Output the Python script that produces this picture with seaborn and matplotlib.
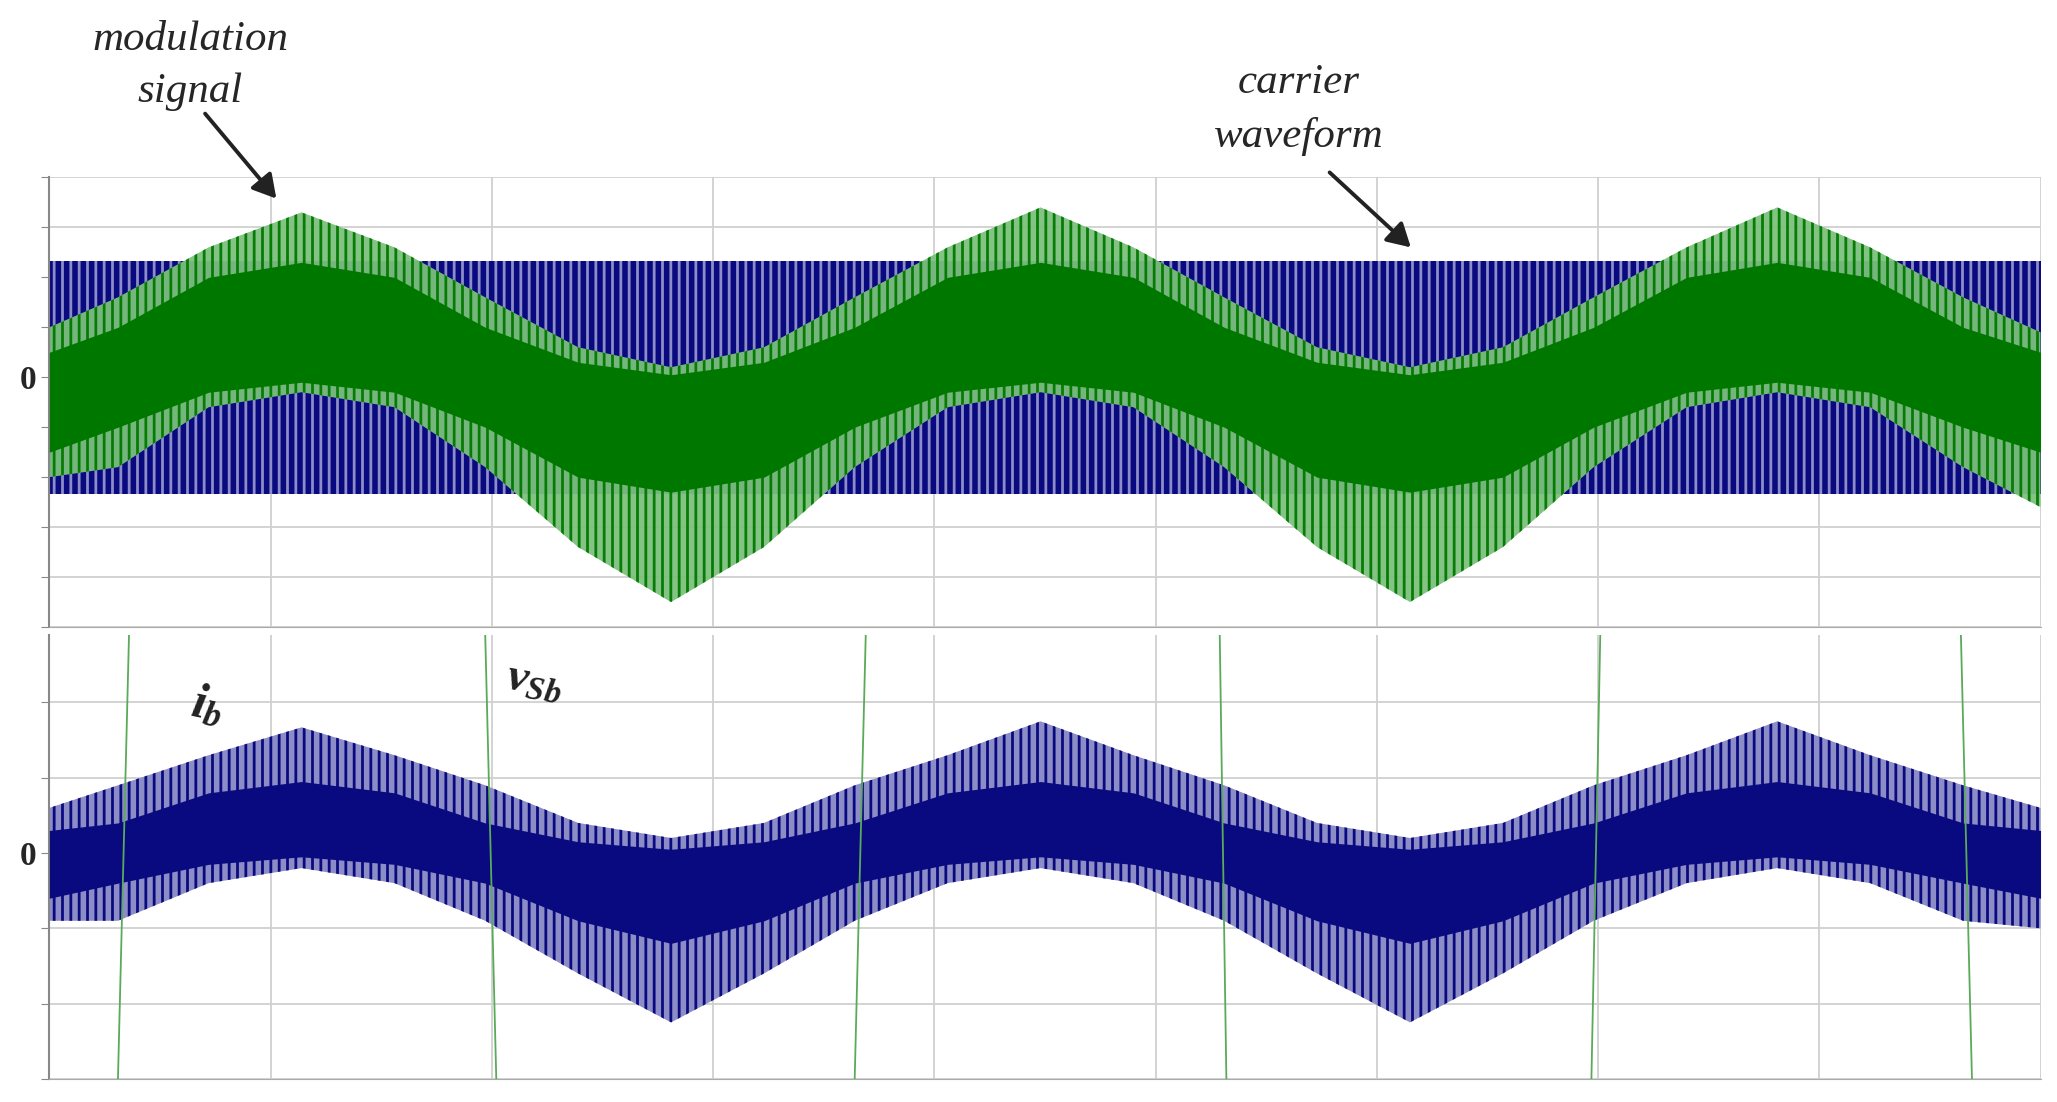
import numpy as np
import matplotlib
matplotlib.use("Agg")
import matplotlib.pyplot as plt
import seaborn as sns

sns.set_style("white")
plt.rcParams['font.family'] = ['Liberation Serif', 'DejaVu Serif']
plt.rcParams['mathtext.fontset'] = 'custom'
plt.rcParams['mathtext.it'] = 'Liberation Serif:italic:bold'
plt.rcParams['mathtext.rm'] = 'Liberation Serif:bold'
plt.rcParams['hatch.linewidth'] = 2.0

# sample positions (grid units) for envelopes
x_env = [0, 0.31, 0.72, 1.14, 1.56, 1.97, 2.39, 2.81, 3.23, 3.64, 4.06, 4.48, 4.90,
         5.31, 5.73, 6.15, 6.57, 6.98, 7.40, 7.81, 8.23, 8.65, 9.0]
# modulation signal envelopes (top panel)
mod_light_hi = [1.0, 1.6, 2.6, 3.3, 2.6, 1.6, 0.6, 0.2, 0.6, 1.6, 2.6, 3.4, 2.6, 1.6, 0.6, 0.2, 0.6, 1.6, 2.6, 3.4, 2.6, 1.6, 0.9]
mod_dark_hi = [0.5, 1.0, 2.0, 2.3, 2.0, 1.0, 0.3, 0.05, 0.3, 1.0, 2.0, 2.3, 2.0, 1.0, 0.3, 0.05, 0.3, 1.0, 2.0, 2.3, 2.0, 1.0, 0.5]
mod_dark_lo = [-1.5, -1.0, -0.3, -0.1, -0.3, -1.0, -2.0, -2.3, -2.0, -1.0, -0.3, -0.1, -0.3, -1.0, -2.0, -2.3, -2.0, -1.0, -0.3, -0.1, -0.3, -1.0, -1.5]
mod_light_lo = [-2.0, -1.8, -0.6, -0.3, -0.6, -1.8, -3.4, -4.5, -3.4, -1.8, -0.6, -0.3, -0.6, -1.8, -3.4, -4.5, -3.4, -1.8, -0.6, -0.3, -0.6, -1.8, -2.6]
carrier_amp = 2.33
# phase current envelopes (bottom panel)
ib_light_hi = [0.6, 0.9, 1.3, 1.67, 1.3, 0.9, 0.4, 0.2, 0.4, 0.9, 1.3, 1.75, 1.3, 0.9, 0.4, 0.2, 0.4, 0.9, 1.3, 1.75, 1.3, 0.9, 0.6]
ib_dark_hi = [0.3, 0.4, 0.8, 0.95, 0.8, 0.4, 0.15, 0.05, 0.15, 0.4, 0.8, 0.95, 0.8, 0.4, 0.15, 0.05, 0.15, 0.4, 0.8, 0.95, 0.8, 0.4, 0.3]
ib_dark_lo = [-0.6, -0.4, -0.15, -0.05, -0.15, -0.4, -0.9, -1.2, -0.9, -0.4, -0.15, -0.05, -0.15, -0.4, -0.9, -1.2, -0.9, -0.4, -0.15, -0.05, -0.15, -0.4, -0.6]
ib_light_lo = [-0.9, -0.9, -0.4, -0.2, -0.4, -0.9, -1.6, -2.25, -1.6, -0.9, -0.4, -0.2, -0.4, -0.9, -1.6, -2.25, -1.6, -0.9, -0.4, -0.2, -0.4, -0.9, -1.0]
# v_Sb steep edges (x at bottom, x at top)
vsb_x_bottom = [0.31, 2.02, 3.64, 5.32, 6.97, 8.69]
vsb_x_top = [0.36, 1.97, 3.69, 5.29, 7.01, 8.64]

LG, DG = '#7cc07c', '#007800'
LB, DB = '#8c8cc6', '#0a0a80'

fig = plt.figure(figsize=(20.57, 11.02), dpi=100)
ax1 = fig.add_axes([0.024, 0.431, 0.968, 0.408])
ax2 = fig.add_axes([0.024, 0.021, 0.968, 0.403])

for ax, lo, hi in [(ax1, -5, 4), (ax2, -3.0, 2.9)]:
    ax.set_xlim(0, 9)
    ax.set_ylim(lo, hi)
    for v in range(1, 10):
        ax.axvline(v, color='#d0d0d0', lw=1.3, zorder=0)
    for v in range(int(np.ceil(lo)), int(np.floor(hi)) + 1):
        ax.axhline(v, color='#d0d0d0', lw=1.3, zorder=0)
    ax.set_yticks([t for t in range(int(np.ceil(lo)), int(np.floor(hi)) + 1)])
    ax.set_yticklabels(['0' if t == 0 else '' for t in ax.get_yticks()], fontsize=24, fontweight='bold')
    ax.set_xticks([])
    ax.tick_params(axis='y', direction='out', length=6, color='#888888', left=True)
    for s in ['top', 'right']:
        ax.spines[s].set_visible(False)
    ax.spines['left'].set_color('#888888')
    ax.spines['left'].set_linewidth(1.5)
    ax.spines['bottom'].set_color('#aaaaaa')

# top panel: carrier band
ax1.fill_between([0, 9], [-carrier_amp] * 2, [carrier_amp] * 2, facecolor=DB, edgecolor=LB,
                 hatch='||', lw=0, zorder=1)
ax1.fill_between(x_env, mod_light_lo, mod_light_hi, facecolor=LG, edgecolor=DG, hatch='||',
                 lw=0, alpha=0.95, zorder=2)
ax1.fill_between(x_env, mod_dark_lo, mod_dark_hi, color=DG, lw=0, zorder=3)

# bottom panel
ax2.fill_between(x_env, ib_light_lo, ib_light_hi, facecolor=LB, edgecolor=DB, hatch='||',
                 lw=0, zorder=2)
ax2.fill_between(x_env, ib_dark_lo, ib_dark_hi, color=DB, lw=0, zorder=3)
for xb, xt in zip(vsb_x_bottom, vsb_x_top):
    ax2.plot([xb, xt], [-3.0, 2.9], color='#5aaa5a', lw=1.3, zorder=4)

ax2.text(0.62, 1.75, r'$i_b$', fontsize=36, rotation=-12, color='#222222')
ax2.text(2.05, 2.05, r'$v_{Sb}$', fontsize=34, rotation=-10, color='#222222')

fig.text(145 / 1568, 1 - 30 / 840, 'modulation', fontsize=31, style='italic', ha='center', va='center')
fig.text(145 / 1568, 1 - 70 / 840, 'signal', fontsize=31, style='italic', ha='center', va='center')
fig.text(990 / 1568, 1 - 63 / 840, 'carrier', fontsize=31, style='italic', ha='center', va='center')
fig.text(990 / 1568, 1 - 104 / 840, 'waveform', fontsize=31, style='italic', ha='center', va='center')
fig.add_artist(matplotlib.patches.FancyArrowPatch(
    (155 / 1568, 1 - 85 / 840), (212 / 1568, 1 - 153 / 840), transform=fig.transFigure,
    arrowstyle='-|>,head_length=14,head_width=8', color='#222222', lw=2.8))
fig.add_artist(matplotlib.patches.FancyArrowPatch(
    (1012 / 1568, 1 - 130 / 840), (1077 / 1568, 1 - 190 / 840), transform=fig.transFigure,
    arrowstyle='-|>,head_length=14,head_width=8', color='#222222', lw=2.8))

fig.savefig('out.png', dpi=100, facecolor='white')
